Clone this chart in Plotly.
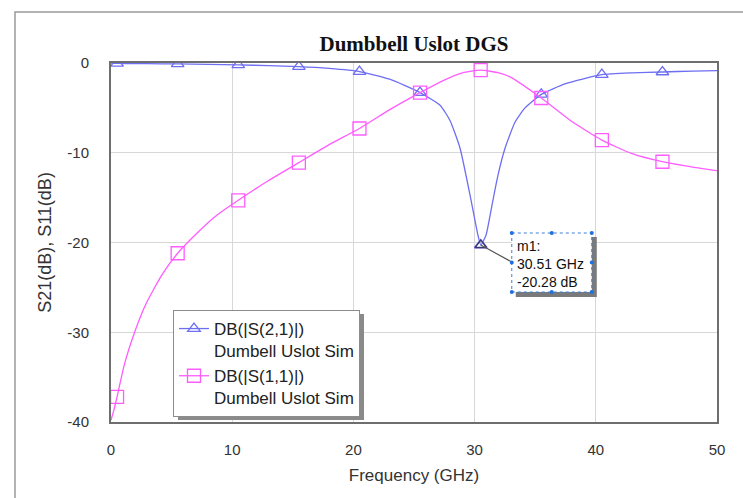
import plotly.graph_objects as go

# ---------------- data ----------------
f21 = [0, 0.5, 3, 5.5, 8, 10.5, 13, 15.5, 18, 20.5, 23.0, 25.5, 27.15, 27.97, 28.8, 29.62, 30.28,
       30.51, 30.94, 31.44, 31.93, 32.51, 33.33, 34.16, 35.5, 37.5, 40.5, 43.0, 45.5, 48.0, 50]
s21 = [0, -0.05, -0.08, -0.1, -0.15, -0.2, -0.3, -0.4, -0.6, -0.95, -1.8, -3.3, -4.7, -6.4, -9.5,
       -14.7, -19.2, -20.28, -19.2, -15.8, -12.5, -9.5, -6.6, -5.0, -3.5, -2.3, -1.3, -1.1, -1.0,
       -0.9, -0.85]

f11 = [0, 0.25, 0.5, 1.1, 2.0, 2.9, 4.2, 5.5, 7.3, 8.7, 10.5, 13.0, 15.5, 18.0, 20.5, 23.0, 25.5,
       27.5, 29.0, 30.5, 32.0, 33.0, 35.5, 38.0, 40.5, 43.0, 45.5, 48.0, 50]
s11 = [-39.8, -38.6, -37.2, -33.6, -29.8, -26.8, -23.6, -21.2, -18.7, -17.0, -15.3, -13.1, -11.1,
       -9.1, -7.3, -5.2, -3.3, -1.9, -1.1, -0.8, -1.1, -1.6, -3.9, -6.5, -8.6, -10.1, -11.0, -11.6,
       -12.0]

marker_f21 = [0.5, 5.5, 10.5, 15.5, 20.5, 25.5, 30.51, 35.5, 40.5, 45.5]
marker_f11 = [0.5, 5.5, 10.5, 15.5, 20.5, 25.5, 30.5, 35.5, 40.5, 45.5]

m1_freq = [30.51]
m1_db = [-20.28]

x_ticks = [0, 10, 20, 30, 40, 50]
y_ticks = [-40, -30, -20, -10, 0]

name21 = "DB(|S(2,1)|)<br>Dumbell Uslot Sim"
name11 = "DB(|S(1,1)|)<br>Dumbell Uslot Sim"

BLUE = "#6e6ef2"
MAG = "#ff5cff"

fig = go.Figure()

for fx, sy, mk, col, sym, msz in [(f21, s21, marker_f21, BLUE, "triangle-up-open", 11),
                                  (f11, s11, marker_f11, MAG, "square-open", 13)]:
    fig.add_trace(go.Scatter(
        x=fx, y=sy, mode="lines", showlegend=False,
        line=dict(color=col, width=1.3, shape="spline", smoothing=0.5),
    ))
    fig.add_trace(go.Scatter(
        x=[f for f in fx if f in mk], y=[v for f, v in zip(fx, sy) if f in mk],
        mode="markers", showlegend=False,
        marker=dict(symbol=sym, color=col, size=msz, line=dict(width=1.3)),
    ))

# legend entries (line + symbol)
for nm, col, sym, msz in [(name21, BLUE, "triangle-up-open", 11), (name11, MAG, "square-open", 13)]:
    fig.add_trace(go.Scatter(
        x=[None], y=[None], mode="lines+markers", name=nm,
        line=dict(color=col, width=1.3),
        marker=dict(symbol=sym, color=col, size=msz, line=dict(width=1.3)),
    ))

fig.add_trace(go.Scatter(
    x=m1_freq, y=m1_db, mode="markers", showlegend=False,
    marker=dict(symbol="triangle-up-open", color="#3a3a70", size=10, line=dict(width=1.3)),
))

# ---------------- marker box (m1) ----------------
shapes = []
def pix_rect(x0, x1, y0, y1, **kw):
    d = dict(type="rect", xref="x", yref="y", xsizemode="pixel", ysizemode="pixel",
             xanchor=m1_freq[0], yanchor=m1_db[0], x0=x0, x1=x1, y0=y0, y1=y1, layer="above")
    d.update(kw)
    return d

shapes.append(dict(type="line", xref="x", yref="y", xsizemode="pixel", ysizemode="pixel",
                   xanchor=m1_freq[0], yanchor=m1_db[0], x0=0, y0=0, x1=31, y1=-17,
                   line=dict(color="#555555", width=1.2), layer="above"))
shapes.append(pix_rect(35, 116, 8, -52, fillcolor="#7a7a7a", line=dict(width=0)))
shapes.append(pix_rect(31, 111, 12, -47, fillcolor="white",
                       line=dict(color="#3b7fd9", width=1, dash="dot")))
for hx, hy in [(31, 12), (71, 12), (111, 12), (31, -17.5), (111, -17.5), (31, -47), (71, -47), (111, -47)]:
    shapes.append(dict(type="circle", xref="x", yref="y", xsizemode="pixel", ysizemode="pixel",
                       xanchor=m1_freq[0], yanchor=m1_db[0], x0=hx - 2, x1=hx + 2, y0=hy - 2, y1=hy + 2,
                       fillcolor="#1f6fe0", line=dict(width=0), layer="above"))

# legend shadow
L, T, W, H = 111, 63, 606, 359
def px(x): return (x - L) / W
def py(y): return (T + H - y) / H
shapes.append(dict(type="rect", xref="paper", yref="paper", x0=px(178), x1=px(364), y0=py(420), y1=py(314),
                   fillcolor="#8a8a8a", line=dict(width=0), layer="above"))
# outer frame
shapes.append(dict(type="rect", xref="paper", yref="paper", x0=px(15), x1=px(760), y0=py(520), y1=py(12),
                   fillcolor="rgba(0,0,0,0)", line=dict(color="#9a9a9a", width=1.5), layer="below"))

fig.add_annotation(x=m1_freq[0], y=m1_db[0], xref="x", yref="y", showarrow=False,
                   xanchor="left", yanchor="top", xshift=34, yshift=9, align="left",
                   text=f"m1:<br>{m1_freq[0]:.2f} GHz<br>{m1_db[0]:.2f} dB",
                   font=dict(family="Liberation Sans, Arial", size=14, color="#111111"))

axis_common = dict(showgrid=True, gridcolor="#d8d8d8", gridwidth=1, showline=True,
                   linecolor="#6e6e6e", linewidth=2, mirror=True, ticks="", zeroline=False,
                   tickfont=dict(family="Liberation Sans, Arial", size=15, color="#333333"))

fig.update_layout(
    width=743, height=498,
    margin=dict(l=111, r=26, t=63, b=76),
    paper_bgcolor="white", plot_bgcolor="white",
    title=dict(text="<b>Dumbbell Uslot DGS</b>", x=0.5, xref="paper", xanchor="center",
               y=1 - 44 / 498, yanchor="middle",
               font=dict(family="Liberation Serif, Times New Roman", size=21, color="#111111")),
    xaxis=dict(range=[0, 50], tickvals=x_ticks, ticktext=[str(v) for v in x_ticks], ticklabelstandoff=13,
               title=dict(text="Frequency (GHz)", standoff=12,
                          font=dict(family="Liberation Sans, Arial", size=17, color="#333333")),
               **axis_common),
    yaxis=dict(range=[-40, 0], tickvals=y_ticks, ticktext=[str(v) for v in y_ticks], ticklabelstandoff=17,
               title=dict(text="S21(dB), S11(dB)", standoff=11,
                          font=dict(family="Liberation Sans, Arial", size=18, color="#333333")),
               **axis_common),
    legend=dict(x=px(173), y=py(310), xanchor="left", yanchor="top", bgcolor="white",
                bordercolor="#8c8c8c", borderwidth=1, valign="top",
                font=dict(family="Liberation Sans, Arial", size=17, color="#222222")),
    shapes=shapes,
    showlegend=True,
)

fig.write_html("out.html")
